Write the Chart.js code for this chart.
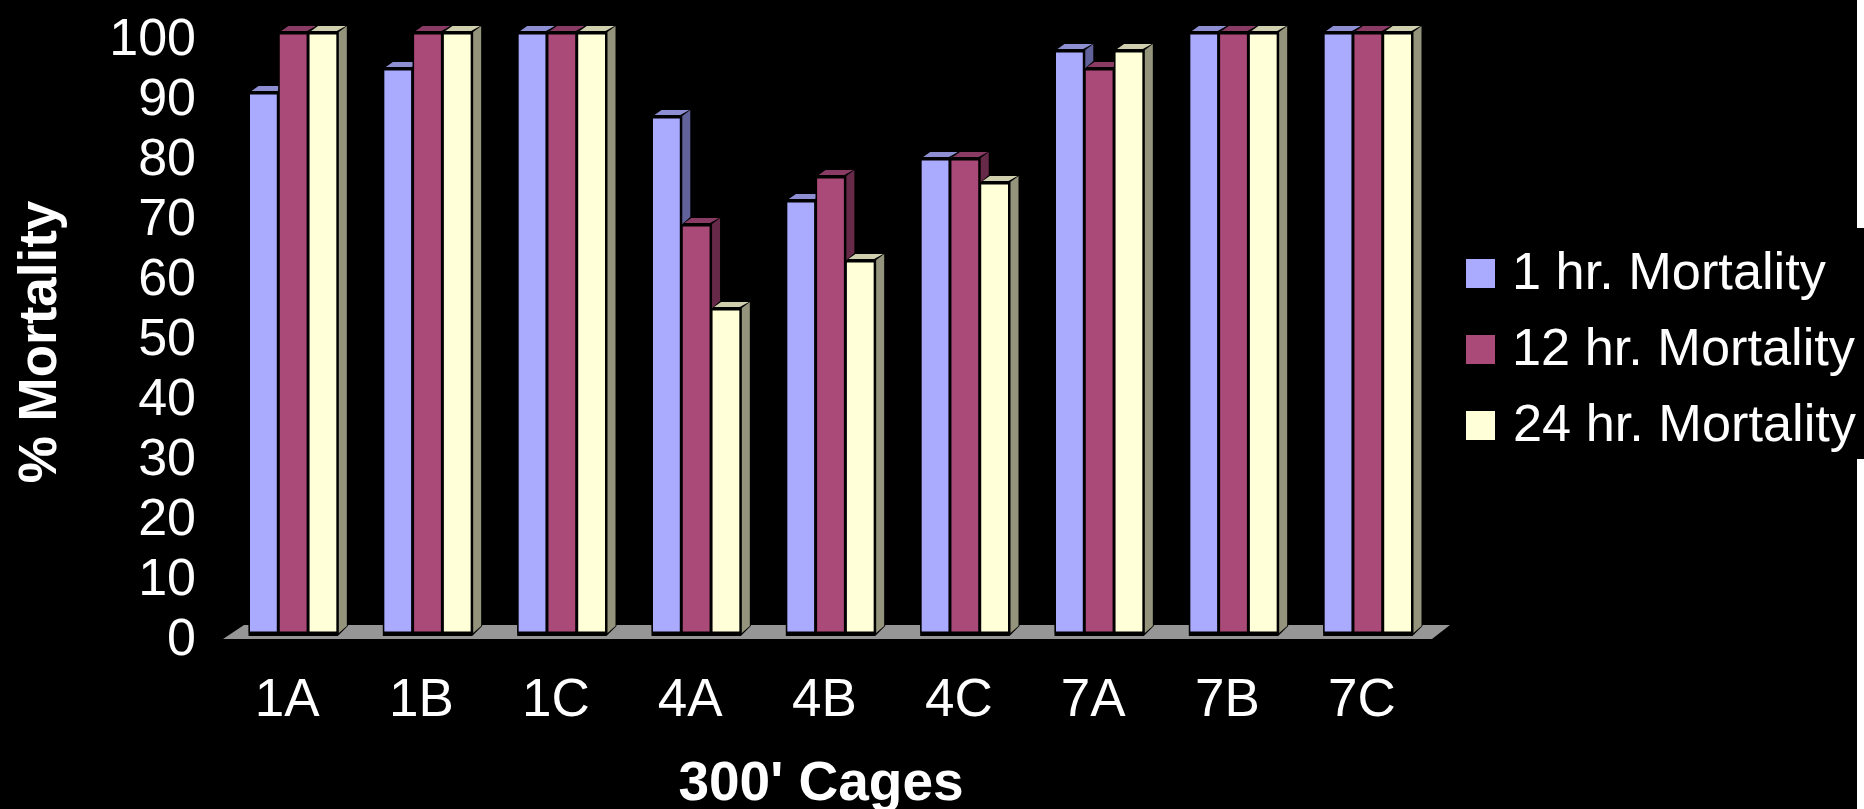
<!doctype html>
<html>

<head>
    <title>300' Cages</title>
    <script src="https://cdn.jsdelivr.net/npm/chart.js"></script>
    <style>
        html, body { margin: 0; background: #000; overflow: hidden; }
        canvas { display: block; }
    </style>
</head>

<body>
    <canvas id="mortalidade" width="1864" height="809"></canvas>

    <script>
        var gaiolas = ['1A', '1B', '1C', '4A', '4B', '4C', '7A', '7B', '7C'];
        var mortalidade1h = [90, 94, 100, 86, 72, 79, 97, 100, 100];
        var mortalidade12h = [100, 100, 100, 68, 76, 79, 94, 100, 100];
        var mortalidade24h = [100, 100, 100, 54, 62, 75, 97, 100, 100];

        var nomes = ['1 hr. Mortality', '12 hr. Mortality', '24 hr. Mortality'];
        var cores = ['#AAAAFF', '#AA4A78', '#FFFFD8'];
        var topos = ['#8E8ED2', '#8A3B64', '#CFCFAE'];
        var lados = ['#62629A', '#662A48', '#94947C'];

        var fx = 9, fy = 7;

        function poligono(ctx, pts, fill) {
            ctx.beginPath();
            ctx.moveTo(pts[0][0], pts[0][1]);
            for (var i = 1; i < pts.length; i++) ctx.lineTo(pts[i][0], pts[i][1]);
            ctx.closePath();
            ctx.fillStyle = fill;
            ctx.fill();
        }

        // floor and the depth faces of the bars, the fronts are the real bars on top
        var efeito3d = {
            id: 'efeito3d',
            beforeDatasetsDraw(chart) {
                var ctx = chart.ctx;
                var a = chart.chartArea;
                poligono(ctx, [[a.left - 3, a.bottom + 6], [a.right - 3, a.bottom + 6], [a.right + 15, a.bottom - 8], [a.left + 18, a.bottom - 8]], '#969696');

                gaiolas.forEach((g, i) => {
                    chart.data.datasets.forEach((d, s) => {
                        var b = chart.getDatasetMeta(s).data[i];
                        var esq = b.x - b.width / 2, dir = b.x + b.width / 2;
                        var t = b.y, base = b.base;
                        // black outline first
                        ctx.beginPath();
                        ctx.moveTo(esq, t);
                        ctx.lineTo(esq + fx, t - fy - 1);
                        ctx.lineTo(dir + fx + 1, t - fy - 1);
                        ctx.lineTo(dir + fx + 1, base - fy);
                        ctx.lineTo(dir, base + 3);
                        ctx.lineTo(esq, base + 3);
                        ctx.closePath();
                        ctx.fillStyle = '#000';
                        ctx.fill();
                        poligono(ctx, [[dir + 1, t - 1], [dir + fx, t - fy], [dir + fx, base - fy], [dir + 1, base]], lados[s]);
                        poligono(ctx, [[esq + 3, t - 2], [esq + fx + 1, t - fy], [dir + fx - 1, t - fy], [dir - 1, t - 2]], topos[s]);
                    });
                });
            },
            // legend, axis titles and the white strips at the right edge
            afterDraw(chart) {
                var ctx = chart.ctx;
                ctx.save();
                ctx.font = '52.3px "Liberation Sans"';
                ctx.textBaseline = 'middle';
                chart.data.datasets.forEach((d, s) => {
                    var y = 273 + s * 76;
                    ctx.fillStyle = d.backgroundColor;
                    ctx.fillRect(1466, y - 14, 29, 29);
                    ctx.fillStyle = '#fff';
                    ctx.fillText(d.label, s == 2 ? 1513 : 1512, y + 2);
                });

                ctx.textAlign = 'center';
                ctx.font = 'bold 55px "Liberation Sans"';
                ctx.fillText("300' Cages", 821, 785);
                ctx.translate(41, 342);
                ctx.rotate(-Math.PI / 2);
                ctx.font = 'bold 53px "Liberation Sans"';
                ctx.fillText('% Mortality', 0, 0);
                ctx.restore();

                ctx.fillStyle = '#fff';
                ctx.fillRect(1857, 0, 7, 228);
                ctx.fillRect(1857, 459, 7, 350);
            }
        };

        function serie(i, valores) {
            return {
                label: nomes[i],
                data: valores,
                backgroundColor: cores[i],
                borderColor: '#000',
                borderWidth: 1.5,
                borderSkipped: false,
                categoryPercentage: 0.665,
                barPercentage: 1
            };
        }

        new Chart(document.getElementById('mortalidade').getContext('2d'), {
            type: 'bar',
            data: {
                labels: gaiolas,
                datasets: [serie(0, mortalidade1h), serie(1, mortalidade12h), serie(2, mortalidade24h)]
            },
            options: {
                responsive: false,
                animation: false,
                layout: { padding: { left: 0, top: 33, right: 429, bottom: 0 } },
                plugins: { legend: { display: false }, tooltip: { enabled: false } },
                scales: {
                    x: {
                        grid: { display: false },
                        border: { display: false },
                        afterFit: s => { s.height = 176; s.paddingLeft = 0; s.paddingRight = 0; },
                        ticks: {
                            color: '#fff',
                            font: { family: 'Liberation Sans', size: 53 },
                            padding: 29,
                            labelOffset: -6,
                            maxRotation: 0
                        }
                    },
                    y: {
                        min: 0,
                        max: 100,
                        grid: { display: false },
                        border: { display: false },
                        afterFit: s => { s.width = 226; s.paddingTop = 0; s.paddingBottom = 0; },
                        ticks: {
                            color: '#fff',
                            stepSize: 10,
                            autoSkip: false,
                            font: { family: 'Liberation Sans', size: 52 },
                            padding: 22,
                            labelOffset: 8
                        }
                    }
                }
            },
            plugins: [efeito3d]
        });
    </script>
</body>

</html>
